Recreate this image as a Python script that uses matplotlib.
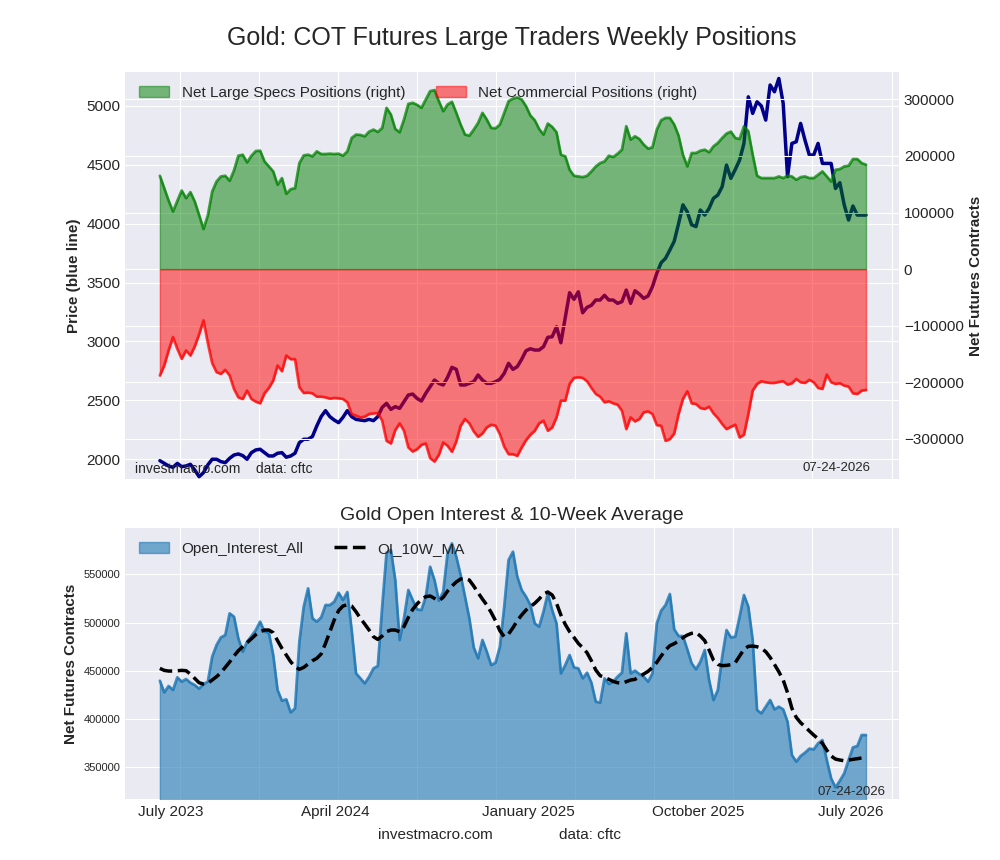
import numpy as np
import pandas as pd
import matplotlib
matplotlib.use("Agg")
import matplotlib.pyplot as plt
import matplotlib.dates as mdates
import matplotlib.ticker as ticker

plt.style.use("seaborn-v0_8-darkgrid")
plt.rcParams["font.family"] = ["Liberation Sans", "DejaVu Sans"]

# weekly COT report dates (Tuesdays)
dates = pd.date_range("2023-06-13", periods=163, freq="7D")

price = [
    1986, 1963, 1941, 1929, 1963, 1935, 1941, 1955, 1907, 1850,
    1884, 1950, 1998, 1998, 1978, 1969, 2006, 2034, 2043, 2029,
    1998, 2054, 2077, 2083, 2054, 2026, 2026, 2049, 2054, 2015,
    2026, 2049, 2139, 2168, 2168, 2191, 2281, 2360, 2411, 2360,
    2331, 2309, 2354, 2411, 2360, 2337, 2331, 2326, 2337, 2326,
    2360, 2439, 2473, 2422, 2445, 2430, 2487, 2544, 2552, 2515,
    2493, 2558, 2615, 2671, 2643, 2629, 2694, 2779, 2762, 2629,
    2629, 2643, 2657, 2714, 2671, 2643, 2643, 2657, 2677, 2728,
    2813, 2762, 2785, 2847, 2920, 2937, 2926, 2926, 2954, 3034,
    3039, 3124, 2988, 3200, 3413, 3357, 3421, 3243, 3289, 3306,
    3351, 3351, 3391, 3351, 3351, 3323, 3337, 3436, 3323, 3430,
    3402, 3365, 3385, 3464, 3578, 3668, 3705, 3776, 3850, 4000,
    4160, 4100, 3990, 3975, 4116, 4073, 4130, 4215, 4243, 4314,
    4498, 4385, 4460, 4540, 4682, 5078, 4937, 5036, 5000, 4880,
    5178, 5121, 5234, 5022, 4400, 4682, 4696, 4852, 4710, 4583,
    4583, 4682, 4512, 4512, 4512, 4299, 4348, 4160, 4031, 4150,
    4073, 4073, 4073,
]

large_specs = [
    164900, 143000, 121200, 101700, 120600, 138900, 125300, 136000, 119400, 95700,
    70900, 95000, 137100, 154800, 163700, 164900, 156000, 174300, 200300, 202100,
    188500, 200300, 208600, 209200, 190300, 181400, 172600, 148900, 160800, 133000,
    141200, 143000, 187300, 200900, 202100, 199200, 208000, 203300, 203300, 203900,
    203300, 203900, 200300, 208000, 231700, 237600, 237000, 234600, 242900, 246400,
    242300, 249400, 284900, 273000, 247600, 241700, 264200, 291900, 293700, 290200,
    284900, 299600, 314400, 316200, 296700, 278900, 290800, 295500, 276000, 255300,
    237600, 235800, 246400, 258300, 276000, 264200, 249400, 248800, 255300, 276000,
    296700, 301400, 303200, 299600, 287800, 271300, 263000, 247600, 237600, 257100,
    251200, 241700, 202100, 199200, 175500, 164900, 163700, 162500, 164900, 172600,
    181400, 187300, 190300, 200300, 198000, 203900, 211000, 252400, 228700, 234600,
    229900, 219900, 212800, 215100, 246400, 263000, 267100, 267100, 255300, 235800,
    202100, 181400, 205100, 205100, 209200, 211000, 206300, 216900, 222800, 231700,
    239400, 242900, 231700, 229900, 252400, 243500, 202100, 164900, 160800, 160800,
    160800, 160800, 163700, 160800, 164900, 163700, 157800, 162500, 163700, 160800,
    160800, 166700, 172600, 163700, 154800, 175500, 176700, 181400, 182600, 194400,
    194400, 187300, 184400,
]

commercial = [
    -187900, -170200, -143600, -120000, -140700, -158400, -143600, -152500, -136500, -115200,
    -90400, -130600, -166100, -182000, -185000, -177900, -187900, -211600, -226400, -229300,
    -214500, -229300, -234000, -237000, -219300, -209800, -196800, -170200, -180300, -152500,
    -159000, -159000, -208600, -218700, -218100, -219300, -225200, -225200, -226400, -228700,
    -227500, -228100, -229300, -235200, -255900, -258900, -261800, -260600, -255900, -254700,
    -254100, -267700, -303200, -307900, -284200, -272400, -285400, -315000, -322100, -318000,
    -310300, -307900, -333900, -339800, -328000, -306100, -312000, -322600, -304300, -276500,
    -264700, -272400, -286600, -296100, -290100, -279500, -274800, -276500, -291400, -313800,
    -326800, -326800, -329800, -315000, -302000, -292500, -285400, -272400, -267700, -285400,
    -279500, -261800, -232300, -232300, -202700, -192100, -190900, -192100, -198000, -209800,
    -220400, -225200, -235200, -233400, -237000, -239400, -250000, -282500, -261800, -268900,
    -264700, -252900, -251200, -255900, -275400, -276600, -303200, -300200, -290200, -255900,
    -229300, -215700, -237000, -238200, -245300, -247000, -242900, -254700, -263000, -273600,
    -282500, -278400, -274800, -297300, -292500, -255900, -214500, -202700, -198000, -199800,
    -201000, -201000, -199200, -198000, -203900, -201500, -193900, -199800, -201000, -195500,
    -199800, -209800, -211600, -186200, -199800, -202700, -201500, -205700, -207400, -219300,
    -220400, -214500, -213400,
]

open_interest = [
    439800, 427700, 434300, 430200, 443300, 438800, 441500, 437700, 435300, 431500,
    436400, 438800, 464700, 476800, 484700, 487100, 509600, 506100, 483700, 469900,
    480200, 486100, 492300, 501000, 490600, 489600, 466400, 430100, 419100, 420500,
    407000, 411200, 480200, 516500, 535500, 504400, 501000, 505400, 518200, 518200,
    521700, 531000, 523400, 531700, 492300, 447400, 442200, 437100, 443900, 452600,
    455000, 516500, 572500, 575200, 544100, 482000, 504400, 533800, 523400, 513700,
    513000, 526900, 557900, 544100, 522700, 532000, 571800, 582100, 568300, 549300,
    526900, 504400, 474400, 463000, 482000, 469900, 456100, 458500, 475000, 516500,
    564900, 573500, 547600, 533800, 526900, 518200, 499200, 495800, 511300, 530300,
    513000, 499200, 447400, 456100, 466400, 453600, 452600, 442200, 448100, 437800,
    418100, 417000, 442200, 436400, 438800, 444000, 448100, 488900, 447400, 450200,
    446700, 444000, 438800, 447400, 499200, 512400, 518200, 529600, 493000, 486100,
    486100, 472300, 457800, 451600, 459500, 471600, 440500, 419800, 430100, 464700,
    492300, 484700, 485400, 506100, 528600, 516500, 482000, 409400, 406000, 412900,
    419800, 410100, 412900, 410100, 397300, 362800, 355900, 361800, 365200, 369400,
    368700, 374900, 378300, 357600, 338600, 329300, 336200, 343800, 357600, 370700,
    372100, 383500, 383500,
]

oi_10w_ma = [
    452600, 450500, 449800, 449800, 450200, 450500, 450200, 446700, 442200, 437700,
    436400, 437100, 440500, 444000, 448100, 453600, 459200, 465400, 470900, 475000,
    479200, 483300, 487500, 490600, 492300, 492300, 489600, 481300, 473300, 466400,
    459500, 454300, 451600, 453600, 457100, 460500, 463000, 467500, 478500, 490600,
    502700, 512400, 517200, 518600, 517200, 511300, 504400, 498500, 492300, 485400,
    482600, 486100, 490600, 492300, 492300, 490600, 495800, 505400, 513700, 519300,
    524100, 526900, 527600, 525100, 522700, 526200, 532700, 537900, 542100, 545200,
    545900, 544100, 537900, 531000, 524400, 518200, 510600, 502000, 491600, 485400,
    488200, 494700, 502000, 507900, 513000, 516500, 520000, 524400, 529600, 531700,
    528600, 520000, 507900, 498200, 490600, 484700, 478500, 474000, 468800, 460500,
    450900, 445000, 443300, 441200, 439100, 437700, 437100, 438800, 440500, 441200,
    444000, 446700, 449500, 453600, 458800, 465400, 471600, 476100, 478200, 480900,
    484400, 487100, 488900, 489600, 486100, 481300, 471600, 461200, 456700, 455400,
    455700, 456400, 458500, 465400, 472300, 475400, 475700, 475000, 473300, 469900,
    464000, 456700, 449100, 440500, 427400, 411200, 401800, 396300, 392200, 387700,
    383500, 379700, 374900, 367900, 361800, 358600, 357600, 356900, 357600, 358300,
    359000, 359700, 360000,
]

label_dates = ["2023-07-01", "2024-03-20", "2025-01-24", "2025-10-25", "2026-06-27"]
label_names = ["July 2023", "April 2024", "January 2025", "October 2025", "July 2026"]
grid_dates = pd.date_range("2023-07-15", periods=10, freq="127D")
report_date = "07-24-2026"

x_lo = dates[0] - pd.Timedelta(days=56)
x_hi = dates[-1] + pd.Timedelta(days=53)


def set_date_axis(ax, show_labels):
    ax.set_xlim(x_lo, x_hi)
    ax.xaxis.set_major_locator(ticker.FixedLocator(mdates.date2num(grid_dates)))
    ax.xaxis.set_major_formatter(ticker.NullFormatter())
    ax.xaxis.set_minor_locator(ticker.FixedLocator(mdates.date2num(pd.to_datetime(label_dates))))
    if show_labels:
        ax.xaxis.set_minor_formatter(ticker.FixedFormatter(label_names))
    else:
        ax.xaxis.set_minor_formatter(ticker.NullFormatter())
    ax.tick_params(axis="x", which="both", length=0, labelsize=11, pad=4)
    ax.grid(False, which="minor")


fig = plt.figure(figsize=(10, 8.6), dpi=100)
fig.text(0.512, 1 - 38 / 860, "Gold: COT Futures Large Traders Weekly Positions",
         ha="center", va="center", fontsize=18)

# --- top: price + net positions ---
ax1 = fig.add_axes([0.125, 0.443, 0.774, 0.4733])
ax1.plot(dates, price, color="darkblue", linewidth=2.5)
ax1.set_ylim(1830, 5289)
ax1.yaxis.set_major_locator(ticker.MultipleLocator(500))
ax1.set_ylabel("Price (blue line)", fontsize=11, fontweight="bold")
ax1.tick_params(axis="y", labelsize=11)
set_date_axis(ax1, False)

ax2 = ax1.twinx()
ax2.fill_between(dates, large_specs, 0, color="green", alpha=0.5,
                 label="Net Large Specs Positions (right)")
ax2.plot(dates, large_specs, color="green", alpha=0.7, linewidth=2)
ax2.fill_between(dates, commercial, 0, color="red", alpha=0.5,
                 label="Net Commercial Positions (right)")
ax2.plot(dates, commercial, color="red", alpha=0.7, linewidth=2)
ax2.set_ylim(-370700, 348200)
ax2.yaxis.set_major_locator(ticker.MultipleLocator(100000))
ax2.set_ylabel("Net Futures Contracts", fontsize=11, fontweight="bold")
ax2.tick_params(axis="y", labelsize=11)
set_date_axis(ax2, False)
ax2.legend(loc="upper left", ncol=2, fontsize=11, frameon=False)

ax1.text(0.013, 0.008, "investmacro.com    data: cftc", transform=ax1.transAxes,
         fontsize=10, ha="left", va="bottom")
ax1.text(0.963, 0.012, report_date, transform=ax1.transAxes,
         fontsize=9.5, ha="right", va="bottom")

# --- bottom: open interest ---
ax3 = fig.add_axes([0.125, 0.0709, 0.774, 0.3151])
ax3.fill_between(dates, open_interest, 0, color="#1f77b4", alpha=0.6,
                 label="Open_Interest_All")
ax3.plot(dates, open_interest, color="#1f77b4", alpha=0.8, linewidth=2)
ax3.plot(dates, oi_10w_ma, color="black", linestyle="--", linewidth=2.5,
         label="OI_10W_MA")
ax3.set_ylim(317200, 598000)
ax3.yaxis.set_major_locator(ticker.MultipleLocator(50000))
ax3.tick_params(axis="y", labelsize=8)
ax3.set_ylabel("Net Futures Contracts", fontsize=11, fontweight="bold")
ax3.set_title("Gold Open Interest & 10-Week Average", fontsize=14)
set_date_axis(ax3, True)
ax3.legend(loc="upper left", ncol=2, fontsize=11, frameon=False)
ax3.text(0.982, 0.005, report_date, transform=ax3.transAxes,
         fontsize=9.5, ha="right", va="bottom")

fig.text(0.435, 1 - 835 / 860, "investmacro.com", ha="center", va="center", fontsize=11)
fig.text(0.59, 1 - 835 / 860, "data: cftc", ha="center", va="center", fontsize=11)

fig.savefig("out.png", dpi=100)
